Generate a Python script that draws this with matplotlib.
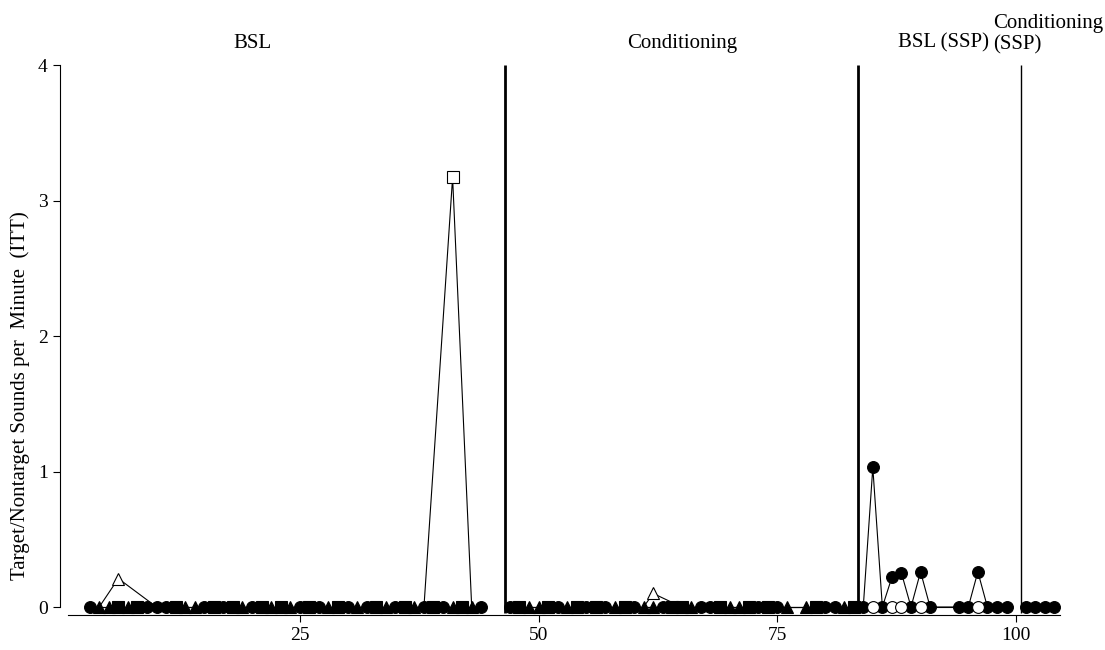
import matplotlib
matplotlib.use('Agg')
import matplotlib.pyplot as plt

plt.rcParams['font.family'] = ['Liberation Serif', 'DejaVu Serif']

# phase boundaries and labels
phase_lines = [46.5, 83.5, 100.5]
phase_widths = [2.0, 2.0, 1.0]
phase_names = ['BSL', 'Conditioning', 'BSL (SSP)', 'Conditioning\n(SSP)']
phase_pos = [20, 65, 92.4, 97.6]

# BSL, filled markers (all zero)
bsl_circ = [3, 9, 10, 11, 15, 17, 20, 25, 27, 30, 32, 35, 38, 40, 44]
bsl_tri = [4, 5, 7, 13, 14, 19, 22, 24, 28, 31, 34, 37, 41, 43]
bsl_sq = [6, 8, 12, 16, 18, 21, 23, 26, 29, 33, 36, 39, 42]

# Conditioning, filled markers (all zero)
cond_circ = [47, 52, 55, 57, 60, 63, 67, 68, 73, 75, 80, 81]
cond_tri = [49, 50, 53, 58, 61, 62, 66, 70, 71, 76, 78, 82]
cond_sq = [48, 51, 54, 56, 59, 64, 65, 69, 72, 74, 79, 83]

# open markers
bsl_otri_x = [4, 6, 10]
bsl_otri_y = [0, 0.21, 0]
bsl_osq_x = [38, 41, 43]
bsl_osq_y = [0, 3.17, 0]
cond_otri_x = [61, 62, 65]
cond_otri_y = [0, 0.10, 0]

# SSP phases
ssp_circ_x = [84, 85, 86, 87, 88, 89, 90, 91, 94, 95, 96, 97, 98, 99]
ssp_circ_y = [0, 1.03, 0, 0.22, 0.25, 0, 0.26, 0, 0, 0, 0.26, 0, 0, 0]
ssp_ocirc_x = [85, 87, 88, 90, 96]
ssp_ocirc_y = [0, 0, 0, 0, 0]
cssp_circ_x = [101, 102, 103, 104]
cssp_circ_y = [0, 0, 0, 0]

fig = plt.figure(figsize=(11.05, 6.5), dpi=100)
ax = fig.add_axes([68 / 1105, 1 - 607 / 650, (1060 - 68) / 1105, (607 - 65) / 650])

ms = 8.5
lw = 0.8


def series(x, y, marker, filled=True, z=3, every=None):
    fc = 'black' if filled else 'white'
    ax.plot(x, y, color='black', lw=lw, marker=marker, ms=ms,
            mfc=fc, mec='black', mew=0.8, clip_on=False, zorder=z,
            markevery=every)


for xs, mk in [(bsl_circ, 'o'), (bsl_tri, '^'), (bsl_sq, 's'),
               (cond_circ, 'o'), (cond_tri, '^'), (cond_sq, 's')]:
    series(xs, [0] * len(xs), mk)

# open series: only the peaks show, the zero points sit under filled marks
series(bsl_otri_x, bsl_otri_y, '^', filled=False, z=2.5, every=[1])
series(bsl_osq_x, bsl_osq_y, 's', filled=False, z=2.5, every=[1])
series(cond_otri_x, cond_otri_y, '^', filled=False, z=2.5, every=[1])
series(ssp_circ_x, ssp_circ_y, 'o', z=3)
series(ssp_ocirc_x, ssp_ocirc_y, 'o', filled=False, z=4)
series(cssp_circ_x, cssp_circ_y, 'o', z=3)

for xv, w in zip(phase_lines, phase_widths):
    ax.vlines(xv, -0.045, 4, color='black', lw=w, clip_on=False, zorder=2)

for name, xp in zip(phase_names, phase_pos):
    if '\n' in name:
        ax.text(xp, 4.23, name, ha='left', va='center', fontsize=15,
                linespacing=1.15)
    else:
        ax.text(xp, 4.16, name, ha='center', va='center', fontsize=15)

ax.set_xlim(0.73, 104.6)
ax.set_ylim(0, 4)
ax.set_xticks([25, 50, 75, 100])
ax.set_yticks([0, 1, 2, 3, 4])
ax.tick_params(labelsize=14, length=5, width=0.8)
ax.spines['top'].set_visible(False)
ax.spines['right'].set_visible(False)
ax.spines['left'].set_position(('outward', 6))
ax.spines['bottom'].set_position(('outward', 6))
ax.set_ylabel('Target/Nontarget Sounds per  Minute  (ITT)', fontsize=15)
ax.yaxis.set_label_coords(-0.038, 0.39)

fig.savefig('out.png', dpi=100)
